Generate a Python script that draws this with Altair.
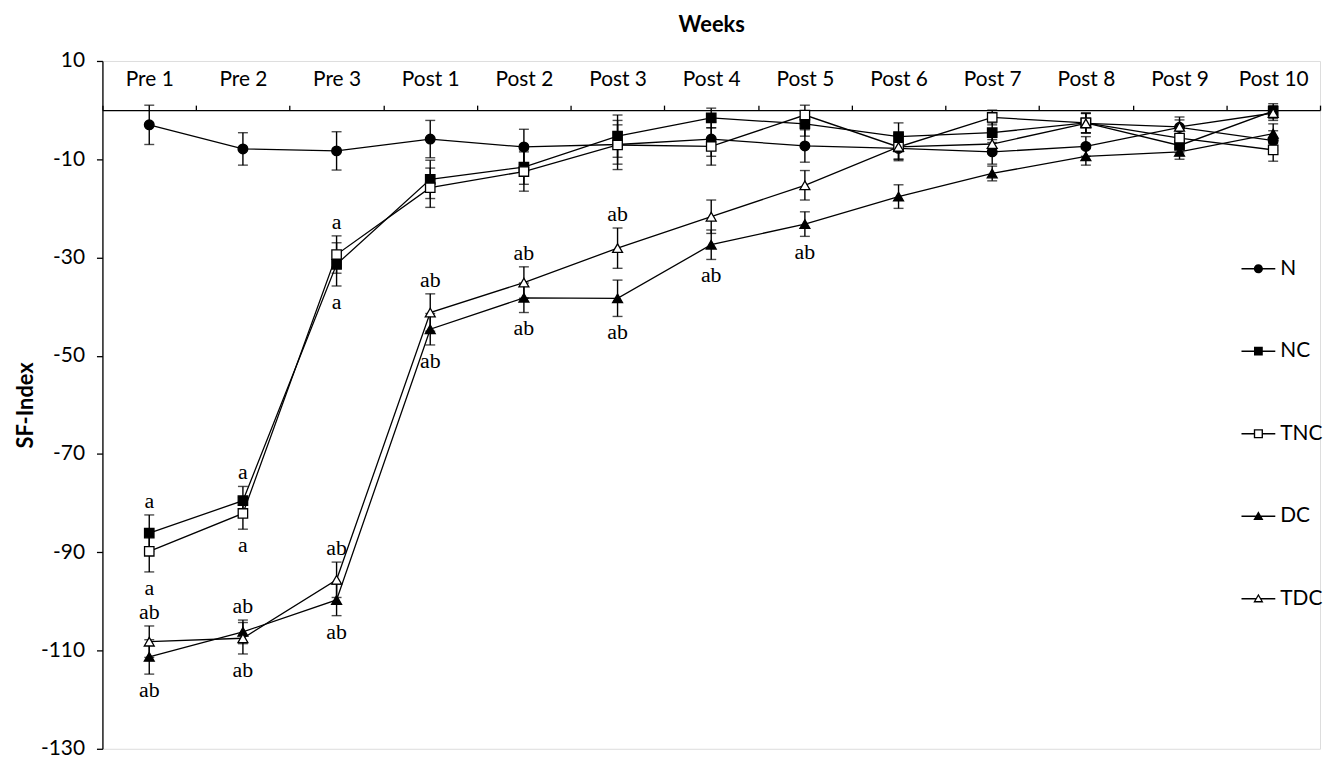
import altair as alt
import pandas as pd

weeks = ["Pre 1", "Pre 2", "Pre 3", "Post 1", "Post 2", "Post 3", "Post 4",
         "Post 5", "Post 6", "Post 7", "Post 8", "Post 9", "Post 10"]
groups = ["N", "NC", "TNC", "DC", "TDC"]

n_mean = [-3.0, -7.9, -8.3, -5.9, -7.5, -7.0, -5.9, -7.3, -7.8, -8.5, -7.4, -3.5, -6.2]
n_err = [4.0, 3.3, 3.9, 3.8, 3.6, 4.0, 3.5, 3.3, 2.5, 2.5, 2.0, 1.5, 2.0]
nc_mean = [-86.1, -79.5, -31.4, -14.1, -11.6, -5.3, -1.6, -2.8, -5.4, -4.6, -2.6, -7.2, -0.2]
nc_err = [3.7, 2.9, 4.4, 3.9, 3.5, 4.3, 2.0, 2.5, 2.8, 2.0, 2.0, 1.5, 1.5]
tnc_mean = [-89.8, -82.1, -29.4, -15.8, -12.5, -7.1, -7.4, -1.0, -7.5, -1.5, -2.6, -5.7, -8.1]
tnc_err = [4.2, 3.2, 3.8, 4.0, 4.0, 5.0, 3.8, 2.0, 2.5, 1.5, 2.0, 2.0, 2.3]
dc_mean = [-111.3, -106.2, -99.7, -44.6, -38.2, -38.3, -27.4, -23.2, -17.6, -12.9, -9.4, -8.5, -4.8]
dc_err = [3.5, 2.4, 3.2, 3.2, 3.0, 3.7, 3.0, 2.5, 2.4, 1.5, 1.8, 1.5, 2.0]
tdc_mean = [-108.2, -107.5, -95.6, -41.2, -35.1, -28.1, -21.7, -15.3, -7.5, -6.9, -2.7, -3.4, -0.6]
tdc_err = [3.2, 3.2, 3.6, 3.8, 3.2, 4.1, 3.4, 3.0, 2.5, 2.0, 2.0, 2.0, 1.5]

# significance letters: (week, group, text, side)
ann_week = ["Pre 1", "Pre 1", "Pre 1", "Pre 1", "Pre 2", "Pre 2", "Pre 2", "Pre 2",
            "Pre 3", "Pre 3", "Pre 3", "Pre 3", "Post 1", "Post 1", "Post 2", "Post 2",
            "Post 3", "Post 3", "Post 4", "Post 5"]
ann_group = ["NC", "TNC", "TDC", "DC", "NC", "TNC", "DC", "TDC",
             "TNC", "NC", "TDC", "DC", "TDC", "DC", "TDC", "DC",
             "TDC", "DC", "DC", "DC"]
ann_text = ["a", "a", "ab", "ab", "a", "a", "ab", "ab",
            "a", "a", "ab", "ab", "ab", "ab", "ab", "ab",
            "ab", "ab", "ab", "ab"]
ann_side = ["above", "below", "above", "below", "above", "below", "above", "below",
            "above", "below", "above", "below", "above", "below", "above", "below",
            "above", "below", "below", "below"]

means = [n_mean, nc_mean, tnc_mean, dc_mean, tdc_mean]
errs = [n_err, nc_err, tnc_err, dc_err, tdc_err]

rows = []
for g, m, e in zip(groups, means, errs):
    for w, v, s in zip(weeks, m, e):
        rows.append({"week": w, "group": g, "mean": v, "lo": v - s, "hi": v + s})
df = pd.DataFrame(rows)

lookup = {(r["week"], r["group"]): r for r in rows}
arows = []
for w, g, t, s in zip(ann_week, ann_group, ann_text, ann_side):
    r = lookup[(w, g)]
    arows.append({"week": w, "group": g, "text": t, "side": s,
                  "ypos": r["hi"] if s == "above" else r["lo"]})
adf = pd.DataFrame(arows)

W, H = 1225, 692
YMIN, YMAX = -130, 10
zero_off = H * YMAX / (YMAX - YMIN)

FONT = "Lato"
xscale = alt.Scale(type="band", paddingInner=0, paddingOuter=0, domain=weeks)
xaxis = alt.Axis(orient="top", offset=-zero_off, tickBand="extent", title="Weeks",
                 labelAngle=0, labelFont=FONT, labelFontSize=21, labelColor="black",
                 labelPadding=16, tickSize=5, tickColor="black", domainColor="black",
                 domainWidth=1.3, tickWidth=1.3, titleFont=FONT, titleFontSize=22,
                 titleFontWeight="bold", titleColor="black", titlePadding=32, grid=False)
yscale = alt.Scale(domain=[YMIN, YMAX], nice=False, zero=False)
yaxis = alt.Axis(values=list(range(10, -131, -20)), title="SF-Index", grid=False,
                 labelExpr="'' + datum.value",
                 labelFont=FONT, labelFontSize=21, labelColor="black", labelPadding=12,
                 tickSize=6, tickColor="black", domainColor="black", domainWidth=1.3,
                 tickWidth=1.3, titleFont=FONT, titleFontSize=22, titleFontWeight="bold",
                 titleColor="black", titlePadding=3)


def X():
    return alt.X("week:N", sort=weeks, scale=xscale, axis=xaxis)


base = alt.Chart(df)

lines = base.mark_line(color="black", strokeWidth=1.3).encode(
    x=X(), y=alt.Y("mean:Q", scale=yscale, axis=yaxis), detail="group:N")

bars = base.mark_rule(color="black", strokeWidth=1.4).encode(
    x=X(), y=alt.Y("lo:Q", scale=yscale, axis=yaxis), y2="hi:Q")
cap_lo = base.mark_tick(color="black", thickness=1.4, size=10, orient="horizontal").encode(
    x=X(), y=alt.Y("lo:Q", scale=yscale, axis=yaxis))
cap_hi = base.mark_tick(color="black", thickness=1.4, size=10, orient="horizontal").encode(
    x=X(), y=alt.Y("hi:Q", scale=yscale, axis=yaxis))

fill_range = ["black", "black", "white", "black", "white"]
shape_range = ["circle", "square", "square", "triangle-up", "triangle-up"]
size_range = [95, 90, 90, 100, 100]

point_layers = []
for g, shp, fc, sz in zip(groups, shape_range, fill_range, size_range):
    point_layers.append(
        base.transform_filter(alt.datum.group == g).mark_point(
            shape=shp, filled=True, fill=fc, stroke="black", strokeWidth=1.3,
            size=sz, opacity=1).encode(
            x=X(), y=alt.Y("mean:Q", scale=yscale, axis=yaxis)))

# legend glyphs: line with marker, drawn as filled outlines (holes for open markers)
line_full = "M-1,-0.04H1V0.04H-1Z"
line_split_sq = "M-1,-0.04H-0.25V0.04H-1Z M0.25,-0.04H1V0.04H0.25Z"
line_split_tri = "M-1,-0.04H-0.16V0.04H-1Z M0.16,-0.04H1V0.04H0.16Z"
circ = "M-0.27,0A0.27,0.27,0,1,1,0.27,0A0.27,0.27,0,1,1,-0.27,0Z"
sq = "M-0.26,-0.26H0.26V0.26H-0.26Z"
sq_open = "M-0.27,-0.27H0.27V0.27H-0.27Z M-0.19,-0.19V0.19H0.19V-0.19Z"
tri = "M0,-0.3L0.3,0.22H-0.3Z"
tri_open = "M0,-0.3L0.3,0.22H-0.3Z M0,-0.146L-0.167,0.143H0.167Z"
leg_paths = [
    line_full + " " + circ,
    line_full + " " + sq,
    line_split_sq + " " + sq_open,
    line_full + " " + tri,
    line_split_tri + " " + tri_open,
]
legend = alt.Legend(orient="none", legendX=1146, legendY=192, title=None,
                    labelFont=FONT, labelFontSize=21, labelColor="black", labelOffset=5,
                    symbolSize=1156, symbolFillColor="black", symbolStrokeWidth=0,
                    symbolOpacity=1, rowPadding=56, padding=0)
legend_layer = base.mark_point(filled=True, color="black", size=0).encode(
    x=X(), y=alt.Y("mean:Q", scale=yscale, axis=yaxis),
    shape=alt.Shape("group:N", scale=alt.Scale(domain=groups, range=leg_paths), legend=legend),
)

ann = alt.Chart(adf)
txt_above = ann.transform_filter(alt.datum.side == "above").mark_text(
    font="Liberation Serif", fontSize=22, color="black", baseline="middle", dy=-14).encode(
    x=X(), y=alt.Y("ypos:Q", scale=yscale, axis=yaxis), text="text:N")
txt_below = ann.transform_filter(alt.datum.side == "below").mark_text(
    font="Liberation Serif", fontSize=22, color="black", baseline="middle", dy=16).encode(
    x=X(), y=alt.Y("ypos:Q", scale=yscale, axis=yaxis), text="text:N")

chart = alt.layer(lines, bars, cap_lo, cap_hi, *point_layers, legend_layer, txt_above, txt_below
                  ).properties(width=W, height=H, padding={"left": 6, "top": 3, "right": 0, "bottom": 3}
                  ).configure_view(stroke=None).configure(background="white")

chart.save("out.html", embed_options={"renderer": "svg", "actions": False})
